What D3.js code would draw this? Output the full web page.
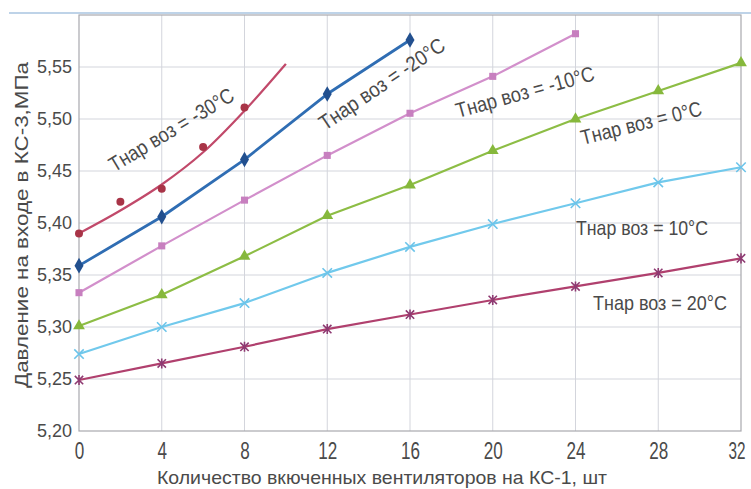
<!DOCTYPE html>
<html><head><meta charset="utf-8">
<script src="https://cdn.jsdelivr.net/npm/d3@7"></script>
<style>
body{margin:0;background:#fff}
svg{display:block}
text{font-family:"Liberation Sans",Arial,sans-serif;fill:#4a4a4a}
</style>
</head><body><svg id="c" width="751" height="489"></svg>
<script>
// ---- data ----
const xTicks = [0, 4, 8, 12, 16, 20, 24, 28, 32];
const yTicks = [5.20, 5.25, 5.30, 5.35, 5.40, 5.45, 5.50, 5.55];
const xFans = [0, 4, 8, 12, 16, 20, 24, 28, 32];

const m30PointsX = [0, 2, 4, 6, 8];
const m30PointsY = [5.390, 5.4205, 5.433, 5.473, 5.511];
const m30TrendX = [0, 2, 4, 6, 8, 10];
const m30TrendY = [5.390, 5.412, 5.437, 5.468, 5.508, 5.553];

const m20Y = [5.359, 5.406, 5.461, 5.524, 5.576];
const m10Y = [5.333, 5.378, 5.422, 5.465, 5.5055, 5.541, 5.582];
const p0Y  = [5.301, 5.331, 5.368, 5.407, 5.4365, 5.4695, 5.500, 5.527, 5.554];
const p10Y = [5.274, 5.300, 5.323, 5.352, 5.377, 5.399, 5.419, 5.439, 5.4536];
const p20Y = [5.249, 5.265, 5.281, 5.298, 5.312, 5.326, 5.339, 5.352, 5.366];

const seriesLabels = ["Тнар воз = -30°C","Тнар воз = -20°C","Тнар воз = -10°C","Тнар воз = 0°C","Тнар воз = 10°C","Тнар воз = 20°C"];
const yTitle = "Давление на входе в КС-3,МПа";
const xTitle = "Количество вкюченных вентиляторов на КС-1, шт";

// ---- layout ----
const svg = d3.select("#c");
const x = d3.scaleLinear().domain([0, 32]).range([79, 741]);
const y = d3.scaleLinear().domain([5.20, 5.60]).range([431, 15]);

// scan frame line
svg.append("line").attr("x1",9).attr("x2",751).attr("y1",13).attr("y2",13)
  .attr("stroke","#a9c4e0").attr("stroke-width",1.5);

// grid
const g = svg.append("g");
g.selectAll(".hg").data(yTicks.slice(1)).join("line")
  .attr("x1",x(0)).attr("x2",x(32)).attr("y1",d=>y(d)).attr("y2",d=>y(d))
  .attr("stroke","#d3d5dc").attr("stroke-width",1);
g.selectAll(".vg").data(xTicks.slice(1,-1)).join("line")
  .attr("x1",d=>x(d)).attr("x2",d=>x(d)).attr("y1",y(5.60)).attr("y2",y(5.20))
  .attr("stroke","#d3d5dc").attr("stroke-width",1);
// frame
svg.append("rect").attr("x",x(0)).attr("y",y(5.60)).attr("width",x(32)-x(0)).attr("height",y(5.20)-y(5.60))
  .attr("fill","none").attr("stroke","#a8a8ae").attr("stroke-width",1.2);

// axes labels
const yAxis = svg.append("g").attr("transform",`translate(${x(0)},0)`)
  .call(d3.axisLeft(y).tickValues(yTicks).tickSize(0).tickPadding(7).tickFormat(d=>d3.format(".2f")(d).replace(".",",")));
yAxis.select(".domain").remove();
yAxis.selectAll("text").attr("font-size",18).attr("fill","#505050").attr("font-family","Liberation Sans, Arial, sans-serif");

const xAxis = svg.append("g").attr("transform",`translate(0,${y(5.20)})`)
  .call(d3.axisBottom(x).tickValues(xTicks).tickSize(0).tickPadding(12).tickFormat(d3.format("d")));
xAxis.select(".domain").remove();
xAxis.selectAll("text").attr("font-size",23).attr("fill","#505050").attr("font-family","Liberation Sans, Arial, sans-serif")
  .attr("textLength",d=>String(d).length*(d===32?8.5:9.5)).attr("lengthAdjust","spacingAndGlyphs")
  .attr("text-anchor",d=>d===32?"end":"middle").attr("dx",d=>d===32?"4":"0");

// titles
svg.append("text").attr("transform","translate(28,225) rotate(-90)").attr("text-anchor","middle")
  .attr("font-size",19).attr("textLength",326).attr("lengthAdjust","spacingAndGlyphs").attr("fill","#505050").text(yTitle);
svg.append("text").attr("x",382).attr("y",484).attr("text-anchor","middle")
  .attr("font-size",19).attr("textLength",450).attr("lengthAdjust","spacingAndGlyphs").attr("fill","#505050").text(xTitle);

// ---- lines ----
const line = d3.line().x(d=>x(d[0])).y(d=>y(d[1]));
const curve = d3.line().x(d=>x(d[0])).y(d=>y(d[1])).curve(d3.curveMonotoneX);

function series(xs, ys, color, width, lineGen){
  const pts = xs.map((v,i)=>[v, ys[i]]);
  svg.append("path").datum(pts).attr("d",lineGen||line).attr("fill","none")
    .attr("stroke",color).attr("stroke-width",width).attr("stroke-linejoin","round");
  return pts;
}
function markers(pts, type, size, color, strokeOnly){
  svg.append("g").selectAll("path").data(pts).join("path")
    .attr("transform",d=>`translate(${x(d[0])},${y(d[1])})`)
    .attr("d",d3.symbol().type(type).size(size))
    .attr("fill",strokeOnly?"none":color).attr("stroke",color).attr("stroke-width",strokeOnly?1.6:0);
}
const asterisk = { draw(ctx, size){ const r=Math.sqrt(size)/2; ctx.moveTo(-r,-r);ctx.lineTo(r,r);ctx.moveTo(-r,r);ctx.lineTo(r,-r);ctx.moveTo(0,-r*1.2);ctx.lineTo(0,r*1.2);} };

// 20°C
const s20 = series(xFans, p20Y, "#b0406e", 2.2);
markers(s20, asterisk, 70, "#8e3a72", true);
// 10°C
const s10 = series(xFans, p10Y, "#71c9ec", 2.2);
markers(s10, d3.symbolTimes, 60, "#6cc4ea", true);
// 0°C
const s0 = series(xFans, p0Y, "#8dbd45", 2.2);
markers(s0, d3.symbolTriangle, 60, "#86b83c");
// -10°C
const sm10 = series(xFans.slice(0, m10Y.length), m10Y, "#d28fcb", 2.2);
markers(sm10, d3.symbolSquare, 50, "#c77fbf");
// -20°C
const sm20 = series(xFans.slice(0, m20Y.length), m20Y, "#2f6db3", 2.8);
markers(sm20, d3.symbolDiamond, 70, "#22508f");
// -30°C
series(m30TrendX, m30TrendY, "#c1496a", 2.2, curve);
markers(m30PointsX.map((v,i)=>[v,m30PointsY[i]]), d3.symbolCircle, 50, "#a83447");

// ---- series labels ----
const labelPos = [
  {cx:175, cy:136, rot:-31, len:142, fs:21},
  {cx:386, cy:90,  rot:-34, len:147, fs:21},
  {cx:527, cy:99,  rot:-15.5, len:143, fs:21},
  {cx:643, cy:130, rot:-14, len:124, fs:21},
  {cx:642, cy:235, rot:0, len:132, fs:21},
  {cx:660, cy:310, rot:0, len:134, fs:21}
];
svg.append("g").selectAll("text").data(seriesLabels).join("text")
  .attr("transform",(d,i)=>`translate(${labelPos[i].cx},${labelPos[i].cy}) rotate(${labelPos[i].rot})`)
  .attr("text-anchor","middle").attr("font-size",(d,i)=>labelPos[i].fs)
  .attr("textLength",(d,i)=>labelPos[i].len).attr("lengthAdjust","spacingAndGlyphs")
  .attr("fill","#4a4a4a").text(d=>d);
</script>
</body></html>
